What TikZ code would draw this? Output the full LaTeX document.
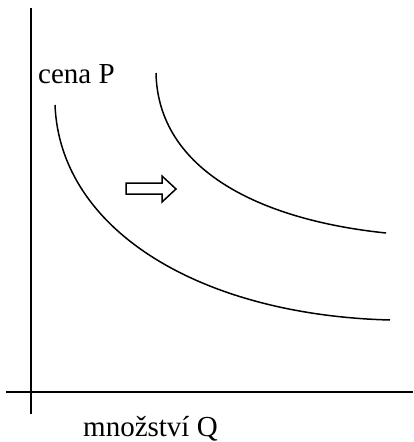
\documentclass[tikz,border=0pt]{standalone}
\usepackage{fontspec}
\setmainfont{Liberation Serif}
\begin{document}
\begin{tikzpicture}[x=1pt,y=-1pt,
  axis/.style={line width=1.8pt},
  curve/.style={line width=1.5pt},
  lbl/.style={anchor=base west, inner sep=0pt, font=\fontsize{29}{32}\selectfont},
  shiftarrow/.style={line width=1.5pt, line join=miter}]
\useasboundingbox (0,0) rectangle (413,442);
% axes
\coordinate (ytop) at (31,8);
\coordinate (ybot) at (31,414);
\coordinate (xleft) at (6,392);
\coordinate (xright) at (413,392);
\draw[axis] (ytop) -- (ybot);
\draw[axis] (xleft) -- (xright);
% labels
\node[lbl] (pl) at (38,83) {cena P};
\node[lbl] (ql) at (83,436) {množství Q};
% curves
\coordinate (d1s) at (55,105);
\coordinate (d1e) at (390,320);
\coordinate (d2s) at (156,73);
\coordinate (d2e) at (386,233);
\draw[curve] (d1s) .. controls (60,230) and (200,315) .. (d1e);
\draw[curve] (d2s) .. controls (158,170) and (260,220) .. (d2e);
% shift arrow
\draw[shiftarrow] (126,183) -- (162,183) -- (162,176) -- (176,189) -- (162,202) -- (162,194) -- (126,194) -- cycle;
\end{tikzpicture}
\end{document}
